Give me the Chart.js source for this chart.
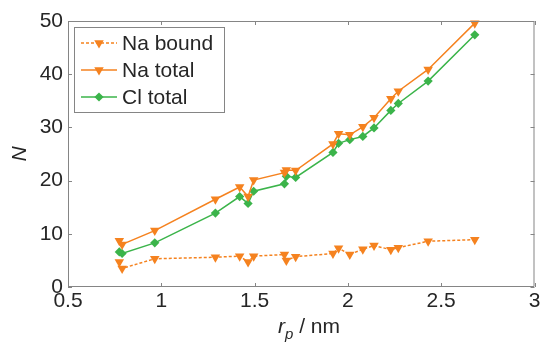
<!DOCTYPE html>
<html>
<head>
<meta charset="utf-8">
<script src="https://cdn.jsdelivr.net/npm/chart.js@4.4.1/dist/chart.umd.min.js"></script>
<style>
  html, body { margin: 0; padding: 0; background: #fff; }
  #wrap { width: 540px; height: 345px; position: relative; }
</style>
</head>
<body>
<div id="wrap"><canvas id="chart"></canvas></div>
<script>
// data
const rp = [0.775, 0.79, 0.965, 1.29, 1.42, 1.465, 1.495, 1.66, 1.67, 1.72, 1.92, 1.95, 2.01, 2.08, 2.14, 2.23, 2.27, 2.43, 2.68];
const naBound = [4.7, 3.5, 5.3, 5.6, 5.8, 4.7, 5.8, 6.1, 5.0, 5.7, 6.3, 7.3, 6.1, 7.1, 7.8, 7.0, 7.4, 8.6, 8.9];
const naTotal = [8.7, 8.0, 10.6, 16.5, 18.8, 17.0, 20.1, 21.5, 22.0, 21.9, 26.9, 28.8, 28.6, 30.1, 31.8, 35.4, 36.8, 40.9, 49.6];
const clTotal = [6.6, 6.3, 8.3, 13.9, 17.0, 15.7, 18.0, 19.4, 20.8, 20.6, 25.3, 27.0, 27.7, 28.3, 29.9, 33.2, 34.5, 38.7, 47.4];
const seriesNames = ['Na bound', 'Na total', 'Cl total'];
const xTicks = [0.5, 1, 1.5, 2, 2.5, 3];
const yTicks = [0, 10, 20, 30, 40, 50];

const ORANGE = '#f5821f';
const GREEN = '#3bb44a';
const AXIS = '#858585';
const TXT = '#262626';
const FONT = '"Liberation Sans", Arial, sans-serif';

const pts = arr => rp.map((x, i) => ({ x: x, y: arr[i] }));

// inward ticks + box + legend + axis titles
const framePlugin = {
  id: 'frame',
  afterDraw(chart) {
    const ctx = chart.ctx;
    const a = chart.chartArea;
    const sx = chart.scales.x, sy = chart.scales.y;
    const tl = 4;
    ctx.save();
    ctx.strokeStyle = AXIS;
    ctx.lineWidth = 1;
    ctx.beginPath();
    ctx.rect(a.left + 0.5, a.top + 0.5, a.right - a.left - 1, a.bottom - a.top - 1);
    xTicks.forEach(v => {
      const px = Math.round(sx.getPixelForValue(v)) + 0.5;
      ctx.moveTo(px, a.bottom); ctx.lineTo(px, a.bottom - tl);
      ctx.moveTo(px, a.top); ctx.lineTo(px, a.top + tl);
    });
    yTicks.forEach(v => {
      const py = Math.round(sy.getPixelForValue(v)) + 0.5;
      ctx.moveTo(a.left, py); ctx.lineTo(a.left + tl, py);
      ctx.moveTo(a.right, py); ctx.lineTo(a.right - tl, py);
    });
    ctx.stroke();

    // legend
    const lx = 74, ly = 27, lw = 150, lh = 85;
    ctx.fillStyle = '#fff';
    ctx.fillRect(lx, ly, lw, lh);
    ctx.strokeStyle = AXIS;
    ctx.strokeRect(lx + 0.5, ly + 0.5, lw, lh);
    const rows = [43, 70, 97];
    chart.data.datasets.forEach((ds, i) => {
      const y = rows[i];
      ctx.strokeStyle = ds.borderColor;
      ctx.lineWidth = 1.5;
      ctx.setLineDash(ds.borderDash || []);
      ctx.beginPath();
      ctx.moveTo(81, y); ctx.lineTo(117, y);
      ctx.stroke();
      ctx.setLineDash([]);
      ctx.fillStyle = ds.pointBackgroundColor;
      Chart.helpers.drawPoint(ctx, {
        pointStyle: ds.pointStyle, rotation: ds.pointRotation || 0,
        radius: ds.pointRadius, borderWidth: 0
      }, 99, y);
      ctx.fillStyle = TXT;
      ctx.font = '21px ' + FONT;
      ctx.textBaseline = 'middle';
      ctx.textAlign = 'left';
      ctx.fillText(ds.label, 122, y + 1);
    });

    // y title
    ctx.fillStyle = TXT;
    ctx.save();
    ctx.translate(20, (a.top + a.bottom) / 2);
    ctx.rotate(-Math.PI / 2);
    ctx.font = 'italic 21px ' + FONT;
    ctx.textAlign = 'center';
    ctx.textBaseline = 'middle';
    ctx.fillText('N', 0, 0);
    ctx.restore();

    // x title: r_p / nm
    ctx.textBaseline = 'alphabetic';
    ctx.textAlign = 'left';
    const fBig = 'italic 21px ' + FONT, fSub = 'italic 15px ' + FONT, fN = '21px ' + FONT;
    ctx.font = fBig; const w1 = ctx.measureText('r').width;
    ctx.font = fSub; const w2 = ctx.measureText('p').width;
    ctx.font = fN; const w3 = ctx.measureText(' / nm').width;
    let x0 = 309 - (w1 + w2 + w3) / 2;
    const base = 333;
    ctx.font = fBig; ctx.fillText('r', x0, base); x0 += w1;
    ctx.font = fSub; ctx.fillText('p', x0, base + 6); x0 += w2;
    ctx.font = fN; ctx.fillText(' / nm', x0, base);
    ctx.restore();
  }
};

new Chart(document.getElementById('chart'), {
  type: 'scatter',
  data: {
    datasets: [
      {
        label: seriesNames[0], data: pts(naBound), showLine: true,
        borderColor: ORANGE, borderWidth: 1.5, borderDash: [3, 2],
        pointStyle: 'triangle', pointRotation: 180, pointRadius: 5.5,
        pointBackgroundColor: ORANGE, pointBorderWidth: 0, clip: false
      },
      {
        label: seriesNames[1], data: pts(naTotal), showLine: true,
        borderColor: ORANGE, borderWidth: 1.5,
        pointStyle: 'triangle', pointRotation: 180, pointRadius: 5.5,
        pointBackgroundColor: ORANGE, pointBorderWidth: 0, clip: false
      },
      {
        label: seriesNames[2], data: pts(clTotal), showLine: true,
        borderColor: GREEN, borderWidth: 1.5,
        pointStyle: 'rectRot', pointRadius: 4.6,
        pointBackgroundColor: GREEN, pointBorderWidth: 0, clip: false
      }
    ]
  },
  options: {
    responsive: true,
    maintainAspectRatio: false,
    animation: false,
    layout: { padding: { top: 21, right: 5, left: 0, bottom: 0 } },
    plugins: { legend: { display: false }, tooltip: { enabled: false } },
    scales: {
      x: {
        type: 'linear', min: 0.5, max: 3,
        afterBuildTicks: s => { s.ticks = xTicks.map(v => ({ value: v })); },
        afterFit: s => { s.height = 58; s.paddingLeft = 0; s.paddingRight = 0; },
        grid: { display: false, drawTicks: false },
        border: { display: false },
        ticks: { color: TXT, font: { family: FONT, size: 21 }, padding: 2, maxRotation: 0,
          callback: v => String(v) }
      },
      y: {
        type: 'linear', min: 0, max: 50,
        afterBuildTicks: s => { s.ticks = yTicks.map(v => ({ value: v })); },
        afterFit: s => { s.width = 68; s.paddingTop = 0; s.paddingBottom = 0; },
        grid: { display: false, drawTicks: false },
        border: { display: false },
        ticks: { color: TXT, font: { family: FONT, size: 21 }, padding: 5,
          callback: v => String(v) }
      }
    }
  },
  plugins: [framePlugin]
});
</script>
</body>
</html>
